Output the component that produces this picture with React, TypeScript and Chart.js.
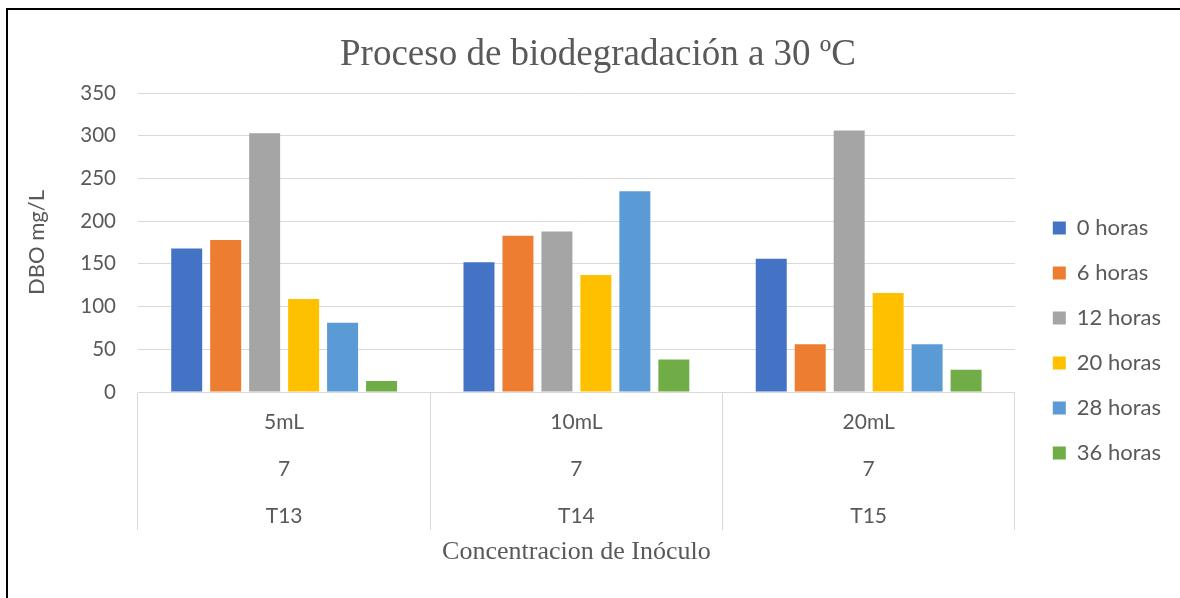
import React, { useEffect, useRef } from 'react';
import { Chart, registerables } from 'chart.js';

Chart.register(...registerables);

// Categories: three-level labels (concentration / pH / treatment)
const concentrations = ['5mL', '10mL', '20mL'];
const phLevels = ['7', '7', '7'];
const treatments = ['T13', 'T14', 'T15'];

const seriesNames = ['0 horas', '6 horas', '12 horas', '20 horas', '28 horas', '36 horas'];
const hours0 = [168, 152, 156];
const hours6 = [178, 183, 56];
const hours12 = [303, 188, 306];
const hours20 = [109, 137, 116];
const hours28 = [81, 235, 56];
const hours36 = [13, 38, 26];
const seriesColors = ['#4472C4', '#ED7D31', '#A5A5A5', '#FFC000', '#5B9BD5', '#70AD47'];

const yMin = 0;
const yMax = 350;
const yStep = 50;

const titleText = 'Proceso de biodegradación a 30 ºC';
const xTitle = 'Concentracion de Inóculo';
const yTitle = 'DBO mg/L';

const TEXT = '#595959';
const GRID = '#d9d9d9';
const SANS = 'Lato';
const SERIF = 'Liberation Serif';

export default function App() {
  const canvasRef = useRef<HTMLCanvasElement>(null);

  useEffect(() => {
    const labels = concentrations.map((c, i) => [c, phLevels[i], treatments[i]]);
    const values = [hours0, hours6, hours12, hours20, hours28, hours36];
    const chart = new Chart(canvasRef.current as HTMLCanvasElement, {
      type: 'bar',
      data: {
        labels,
        datasets: values.map((d, i) => ({
          label: seriesNames[i],
          data: d,
          backgroundColor: seriesColors[i],
          borderWidth: 0,
          categoryPercentage: 0.8,
          barPercentage: 0.795,
          yAxisID: 'y',
        })),
      },
      options: {
        responsive: false,
        animation: false,
        layout: { padding: { left: 25, right: 9, top: 0, bottom: 10 } },
        plugins: {
          title: {
            display: true,
            text: titleText,
            color: TEXT,
            font: { family: SERIF, size: 37, weight: 'normal', lineHeight: 1 },
            padding: { top: 37, bottom: 19 },
          },
          legend: {
            position: 'right',
            align: 'center',
            title: { display: true, text: ' ', padding: 0, font: { size: 93, lineHeight: 1 } },
            labels: {
              boxWidth: 13,
              boxHeight: 13,
              padding: 23,
              color: TEXT,
              font: { family: SANS, size: 22 },
            },
          },
          tooltip: { enabled: false },
        },
        scales: {
          x: {
            grid: {
              display: true,
              offset: true,
              drawOnChartArea: false,
              drawTicks: true,
              tickLength: 138,
              color: GRID,
              lineWidth: 1,
            },
            border: { display: true, color: GRID, width: 1 },
            ticks: {
              color: TEXT,
              font: { family: SANS, size: 21, lineHeight: 2.24 },
              padding: -131.5,
              maxRotation: 0,
              minRotation: 0,
              autoSkip: false,
            },
            title: {
              display: true,
              text: xTitle,
              color: TEXT,
              font: { family: SERIF, size: 26, lineHeight: 1 },
              padding: { top: 0, bottom: 23 },
            },
            afterFit: (s: any) => {
              s.height = 196;
            },
          },
          y: {
            position: 'left',
            min: yMin,
            max: yMax,
            ticks: {
              stepSize: yStep,
              color: TEXT,
              font: { family: SANS, size: 20.5 },
              padding: 22,
            },
            grid: { color: GRID, drawTicks: false, lineWidth: 1 },
            border: { display: false },
            title: {
              display: true,
              text: yTitle,
              color: TEXT,
              font: { family: SANS, size: 22, lineHeight: 1.2 },
              padding: { top: -1, bottom: 0 },
            },
            afterFit: (s: any) => {
              s.width = 113;
            },
          },
          y2: {
            position: 'right',
            display: true,
            grid: { display: false, drawTicks: false },
            ticks: { display: false },
            border: { display: false },
            afterFit: (s: any) => {
              s.width = 15;
            },
          },
        },
      },
    });
    return () => chart.destroy();
  }, []);

  return (
    <div style={{ position: 'fixed', left: 0, top: 0, width: 1180, height: 598, background: '#fff', overflow: 'hidden' }}>
      <canvas ref={canvasRef} width={1180} height={598} style={{ position: 'absolute', left: 0, top: 0 }} />
      <div
        style={{
          position: 'absolute',
          left: 6,
          top: 8,
          width: 1300,
          height: 700,
          borderTop: '2px solid #000',
          borderLeft: '2px solid #000',
          pointerEvents: 'none',
        }}
      />
    </div>
  );
}
